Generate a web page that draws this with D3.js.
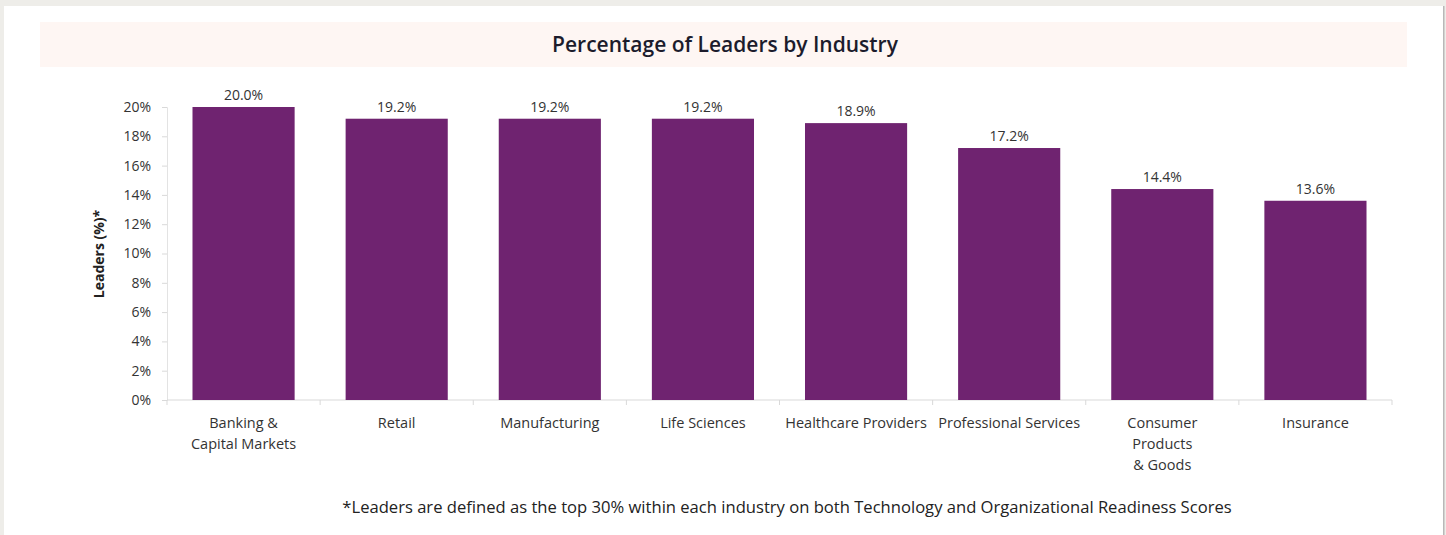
<!DOCTYPE html>
<html>
<head>
<meta charset="utf-8">
<script src="https://cdn.jsdelivr.net/npm/d3@7"></script>
<style>
  body { margin: 0; background: #eeede9; }
  svg { display: block; font-family: "Open Sans", sans-serif; }
</style>
</head>
<body>
<svg id="chart" width="1446" height="535"></svg>
<script>
// data
const industries = ["Banking &|Capital Markets", "Retail", "Manufacturing", "Life Sciences",
  "Healthcare Providers", "Professional Services", "Consumer|Products|& Goods", "Insurance"];
const leaders = [20.0, 19.2, 19.2, 19.2, 18.9, 17.2, 14.4, 13.6];
const yTicks = [0, 2, 4, 6, 8, 10, 12, 14, 16, 18, 20];

const svg = d3.select("#chart");

// panneau blanc
svg.append("rect").attr("x", 4).attr("y", 6).attr("width", 1440).attr("height", 529).attr("fill", "#fff");
svg.append("rect").attr("x", 1443).attr("y", 6).attr("width", 1.5).attr("height", 529).attr("fill", "#b8b8b8");

// bandeau titre
svg.append("rect").attr("x", 40).attr("y", 22).attr("width", 1367).attr("height", 45).attr("fill", "#fef6f3");
svg.append("text").attr("x", 725).attr("y", 52).attr("text-anchor", "middle")
  .attr("font-size", 21).attr("font-weight", 600).attr("fill", "#1c1c2c")
  .text("Percentage of Leaders by Industry");

const x = d3.scaleBand().domain(industries).range([167, 1392]).paddingInner(0.333).paddingOuter(0.1665);
const y = d3.scaleLinear().domain([0, 20]).range([400, 107]);

// axe Y
const gy = svg.append("g").attr("transform", "translate(167,0)")
  .call(d3.axisLeft(y).tickValues(yTicks).tickFormat(d => d + "%").tickSize(5).tickPadding(11));
gy.select(".domain").attr("stroke", "#e3e3e3");
gy.selectAll(".tick line").attr("stroke", "#d9d9d9");
gy.selectAll(".tick text").attr("font-size", 14).attr("fill", "#333").attr("font-family", "Open Sans");

// axe X
const band = x.step();
const gx = svg.append("g").attr("transform", "translate(0,400)");
gx.append("line").attr("x1", 167).attr("x2", 1392).attr("stroke", "#d9d9d9");
gx.selectAll(".sep").data(d3.range(industries.length + 1)).enter().append("line")
  .attr("x1", i => 167 + i * band).attr("x2", i => 167 + i * band)
  .attr("y1", 0).attr("y2", 5).attr("stroke", "#d9d9d9");

// battonets
svg.selectAll(".bar").data(leaders).enter().append("rect")
  .attr("x", (d, i) => x(industries[i])).attr("width", x.bandwidth())
  .attr("y", d => y(d)).attr("height", d => 400 - y(d))
  .attr("fill", "#6f2370");

// valeurs
svg.selectAll(".val").data(leaders).enter().append("text")
  .attr("x", (d, i) => x(industries[i]) + x.bandwidth() / 2)
  .attr("y", d => y(d) - 7).attr("text-anchor", "middle")
  .attr("font-size", 14).attr("fill", "#333").text(d => d.toFixed(1) + "%");

// noms des industries
const lab = svg.selectAll(".lab").data(industries).enter().append("text")
  .attr("x", d => x(d) + x.bandwidth() / 2).attr("y", 428)
  .attr("text-anchor", "middle").attr("font-size", 14.5).attr("fill", "#333");
lab.selectAll("tspan").data(d => d.split("|")).enter().append("tspan")
  .attr("x", function () { return this.parentNode.getAttribute("x"); })
  .attr("dy", (d, i) => i === 0 ? 0 : 21).text(d => d);

// titre axe Y
svg.append("text").attr("transform", "translate(104,254) rotate(-90)")
  .attr("text-anchor", "middle").attr("font-size", 14).attr("font-weight", 700).attr("fill", "#222")
  .text("Leaders (%)*");

// note
svg.append("text").attr("x", 787).attr("y", 513).attr("text-anchor", "middle")
  .attr("font-size", 16.6).attr("fill", "#222")
  .text("*Leaders are defined as the top 30% within each industry on both Technology and Organizational Readiness Scores");
</script>
</body>
</html>
